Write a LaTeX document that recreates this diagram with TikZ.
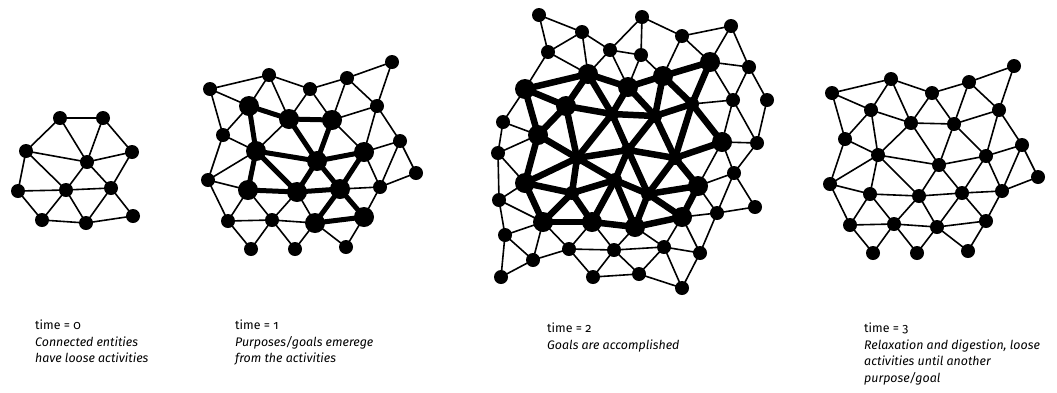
\documentclass[tikz,border=0pt]{standalone}
\usepackage{fontspec}
\setmainfont{Fira Sans}[Numbers=OldStyle]
\usetikzlibrary{backgrounds}

\tikzset{
  dot/.style={circle, fill=black, inner sep=0pt, minimum size=14pt},
  hub/.style={dot, minimum size=20pt},
  link/.style={line width=1.6pt},
  goal/.style={line width=5pt},
  heavy/.style={line width=6.5pt},
  caption/.style={anchor=north west, align=left, inner sep=0pt,
    font=\fontsize{12.4}{16.5}\selectfont},
}

% small cluster
\def\seedpos{1/60/118, 2/103/118, 3/26/151, 4/87/162, 5/132/152, 6/18/191,
  7/66/190, 8/111/188, 9/42/220, 10/86/223, 11/133/216}
\def\seedlinks{1/2, 1/3, 1/4, 2/4, 2/5, 3/4, 3/6, 3/7, 4/5, 4/7, 4/8, 5/8,
  6/7, 6/9, 7/8, 7/9, 7/10, 8/10, 8/11, 9/10, 10/11}

% 27 node mesh (used twice)
\def\meshpos{1/832/93, 2/891/79, 3/932/93, 4/969/82, 5/1014/66, 6/871/110,
  7/911/123, 8/954/124, 9/999/110, 10/845/139, 11/878/155, 12/939/165,
  13/986/156, 14/1022/145, 15/1038/177, 16/830/184, 17/870/194, 18/919/196,
  19/962/193, 20/1002/191, 21/850/225, 22/894/224, 23/937/227, 24/986/221,
  25/873/253, 26/917/253, 27/968/251}
\def\meshlinks{1/2, 2/3, 3/4, 4/5, 1/6, 1/10, 2/6, 2/7, 3/7, 3/8, 4/8, 4/9,
  5/9, 6/7, 6/10, 6/11, 7/8, 7/11, 7/12, 8/9, 8/12, 8/13, 9/13, 9/14, 10/11,
  10/16, 11/12, 11/16, 11/17, 11/18, 12/18, 12/19, 12/13, 13/19, 13/14,
  13/20, 14/15, 14/20, 15/20, 16/17, 16/21, 17/18, 17/21, 17/22, 18/19,
  18/22, 18/23, 19/20, 19/23, 19/24, 20/24, 21/22, 21/25, 22/25, 22/26,
  22/23, 23/26, 23/27, 23/24, 24/27}

% large mesh
\def\bigpos{1/539/15, 2/642/17, 3/731/26, 4/582/32, 5/682/36, 6/548/52,
  7/610/50, 8/641/55, 9/710/62, 10/749/67, 11/588/74, 12/663/76, 13/525/89,
  14/628/87, 15/566/106, 16/733/100, 17/767/100, 18/503/122, 19/538/135,
  20/722/142, 21/757/143, 22/498/153, 23/525/183, 24/698/186, 25/734/173,
  26/499/200, 27/755/207, 28/543/222, 29/592/222, 30/635/227, 31/682/217,
  32/717/213, 33/505/235, 34/569/249, 35/614/250, 36/664/247, 37/700/253,
  38/533/260, 39/501/277, 40/593/277, 41/639/274, 42/682/288,
  43/612/114, 44/655/116, 45/692/104, 46/577/158, 47/628/150, 48/675/158,
  49/572/193, 50/615/180, 51/648/194}
\def\biglinks{1/4, 1/6, 4/6, 4/7, 4/11, 6/11, 6/13, 2/7, 7/8, 7/11, 7/14,
  2/8, 2/5, 8/14, 8/12, 5/12, 5/9, 3/5, 3/9, 3/10, 9/10, 9/16, 10/16, 10/17,
  16/45, 16/20, 16/21, 17/21, 20/21, 20/25, 21/25, 24/25, 25/27, 25/32,
  20/24, 24/32, 27/32, 31/32, 32/37, 31/37, 36/37, 37/42, 36/42, 36/41,
  31/36, 30/36, 30/35, 35/36, 35/41, 35/40, 40/41, 41/42, 34/35, 34/40,
  29/34, 29/35, 28/34, 34/38, 28/38, 33/38, 38/39, 33/39, 28/33, 26/33,
  26/28, 23/26, 22/26, 22/23, 19/22, 18/22, 18/19, 13/18}
\def\bigheavy{13/11, 11/14, 14/12, 12/9, 13/15, 11/15, 11/43, 14/43, 14/44,
  12/44, 12/45, 9/45, 15/43, 43/44, 44/45, 13/19, 15/19, 15/46, 43/46,
  43/47, 44/47, 44/48, 45/48, 45/20, 19/46, 46/47, 47/48, 48/20, 19/23,
  23/46, 46/49, 46/50, 47/50, 47/51, 48/51, 48/24, 23/49, 49/50, 50/51,
  51/24, 23/28, 28/49, 29/49, 29/50, 30/50, 30/51, 31/51, 24/31, 28/29,
  29/30, 30/31}

\begin{document}
\begin{tikzpicture}[x=1pt, y=-1pt]
  \useasboundingbox (0,0) rectangle (1057,392);

  % time = 0
  \foreach \n/\x/\y in \seedpos
    \node[dot] (o\n) at (\x,\y) {};

  % time = 1
  \foreach \n/\x/\y in \meshpos
    \node[dot] (u\n) at (\x-622,\y-4) {};
  \foreach \n in {6,7,8,11,12,13,17,18,19,23,24}
    \node[hub] (uh\n) at (u\n) {};

  % time = 2
  \foreach \n/\x/\y in \bigpos
    \node[dot] (g\n) at (\x,\y) {};
  \foreach \n in {9,11,12,13,14,15,19,20,23,24,28,29,30,31}
    \node[hub] (gh\n) at (g\n) {};

  % time = 3
  \foreach \n/\x/\y in \meshpos
    \node[dot] (w\n) at (\x,\y) {};

  \begin{scope}[on background layer]
    \foreach \a/\b in \seedlinks
      \draw[link] (o\a.center) -- (o\b.center);
    \foreach \a/\b in \meshlinks
      \draw[link] (u\a.center) -- (u\b.center);
    \foreach \a/\b in {6/7, 7/8, 6/11, 7/12, 8/12, 11/12, 12/13, 11/17, 11/18,
        17/18, 18/19, 12/18, 12/19, 13/19, 19/24, 19/23, 23/24}
      \draw[goal] (u\a.center) -- (u\b.center);
    \foreach \a/\b in \biglinks
      \draw[link] (g\a.center) -- (g\b.center);
    \foreach \a/\b in \bigheavy
      \draw[heavy] (g\a.center) -- (g\b.center);
    \foreach \a/\b in \meshlinks
      \draw[link] (w\a.center) -- (w\b.center);
  \end{scope}

  % captions
  \node[caption] (cap0) at (35,320) {time = 0\\
    \textit{Connected entities}\\ \textit{have loose activities}};
  \node[caption] (cap1) at (235,320) {time = 1\\
    \textit{Purposes/goals emerege}\\ \textit{from the activities}};
  \node[caption] (cap2) at (547,323) {time = 2\\
    \textit{Goals are accomplished}};
  \node[caption] (cap3) at (864,323) {time = 3\\
    \textit{Relaxation and digestion, loose}\\
    \textit{activities until another}\\ \textit{purpose/goal}};
\end{tikzpicture}
\end{document}
